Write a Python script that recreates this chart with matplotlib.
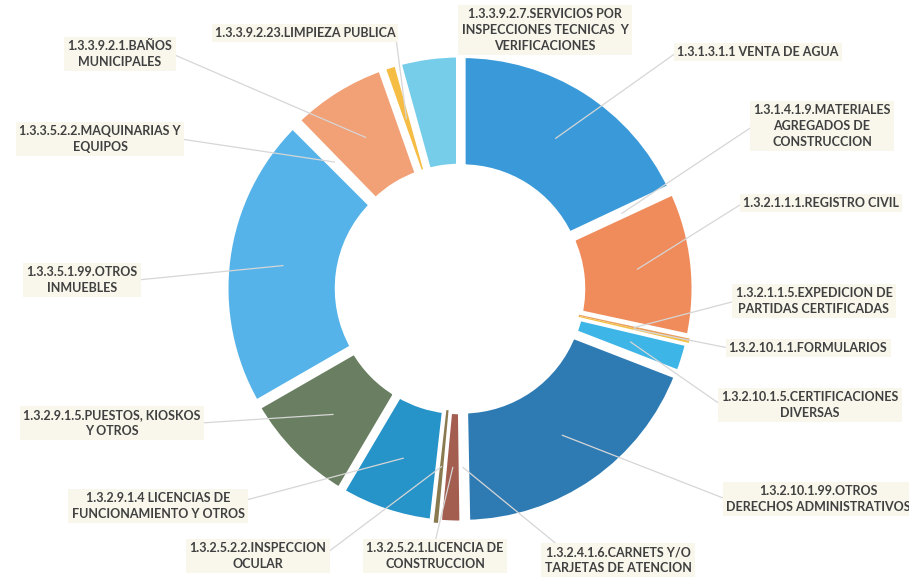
import matplotlib
matplotlib.use("Agg")
import matplotlib.pyplot as plt
import numpy as np

# Slices in clockwise order starting at 12 o'clock (approx. % of total)
labels = [
    "1.3.1.3.1.1 VENTA DE AGUA",
    "1.3.1.4.1.9.MATERIALES\nAGREGADOS DE\nCONSTRUCCION",
    "1.3.2.1.1.1.REGISTRO CIVIL",
    "1.3.2.1.1.5.EXPEDICION DE\nPARTIDAS CERTIFICADAS",
    "1.3.2.10.1.1.FORMULARIOS",
    "1.3.2.10.1.5.CERTIFICACIONES\nDIVERSAS",
    "1.3.2.10.1.99.OTROS\nDERECHOS ADMINISTRATIVOS",
    "1.3.2.4.1.6.CARNETS Y/O\nTARJETAS DE ATENCION",
    "1.3.2.5.2.1.LICENCIA DE\nCONSTRUCCION",
    "1.3.2.5.2.2.INSPECCION\nOCULAR",
    "1.3.2.9.1.4 LICENCIAS DE\nFUNCIONAMIENTO Y OTROS",
    "1.3.2.9.1.5.PUESTOS, KIOSKOS\nY OTROS",
    "1.3.3.5.1.99.OTROS\nINMUEBLES",
    "1.3.3.5.2.2.MAQUINARIAS Y\nEQUIPOS",
    "1.3.3.9.2.1.BAÑOS\nMUNICIPALES",
    "1.3.3.9.2.23.LIMPIEZA PUBLICA",
    "1.3.3.9.2.7.SERVICIOS POR\nINSPECCIONES TECNICAS  Y\nVERIFICACIONES",
]
values = [18.0, 0.08, 10.3, 0.15, 0.15, 2.2, 18.8, 0.1, 1.7, 0.3,
          6.7, 8.2, 20.8, 0.2, 6.9, 1.1, 4.3]
colors = ["#3A9AD9", "#2E7BB4", "#F08B5B", "#E9A060", "#F3C044", "#3DB5E6",
          "#2E7BB4", "#7A5040", "#A35E50", "#8A7A50", "#2693C9", "#6A7F62",
          "#55B3E9", "#3A9AD9", "#F2A075", "#F6BD45", "#75CDEA"]

# layout (pixels, origin top-left)
W, H = 909, 577
cx, cy, R = 460, 289, 231
thin_visible = {3, 4, 9}   # hair-line slices that show inside the gaps
label_pos = [
    (758, 52), (822, 126), (821, 203), (814, 301), (808, 348), (810, 405),
    (818, 499), (618, 560), (435, 556), (258, 556), (158, 506), (112, 423),
    (82, 280), (100, 139), (120, 54), (305, 33), (545, 30),
]
label_rel = [
    (0, 0.5), (0, 0.5), (0, 0.5), (0, 0.5), (0, 0.5), (0, 0.5),
    (0, 0.5), (0.1, 1), (0.5, 1), (1, 0.6), (1, 0.7), (1, 0.5),
    (1, 0.5), (1, 0.5), (1, 0.5), (1, 0.5), None,
]

fig = plt.figure(figsize=(W / 100, H / 100), dpi=100)
ax = fig.add_axes([0, 0, 1, 1])

wedges, _ = ax.pie(
    values, colors=colors, startangle=90, counterclock=False,
    radius=R, center=(cx, H - cy), explode=[4] * len(values),
    wedgeprops=dict(width=0.49 * R, edgecolor="white", linewidth=5),
)
for i, w in enumerate(wedges):
    if i in thin_visible:
        w.set_linewidth(0)
        w.set_zorder(2)

ax.set_xlim(0, W)
ax.set_ylim(0, H)
ax.set_aspect("equal")
ax.axis("off")

r_mid = R * (1 - 0.49 / 2)
for w, lab, (lx, ly), rel in zip(wedges, labels, label_pos, label_rel):
    t = np.deg2rad((w.theta1 + w.theta2) / 2)
    ox, oy = w.center
    anchor = (ox + r_mid * np.cos(t), oy + r_mid * np.sin(t))
    arrow = None
    if rel is not None:
        arrow = dict(arrowstyle="-", color="#D6D6D6", lw=0.9,
                     shrinkA=0, shrinkB=0, relpos=rel)
    ax.annotate(lab, xy=anchor, xytext=(lx, H - ly), textcoords="data",
                ha="center", va="center", fontsize=9, family="Lato",
                weight="bold", color="#404040", linespacing=1.35,
                bbox=dict(boxstyle="square,pad=0.25", fc="#F9F7EC", ec="none"),
                arrowprops=arrow, zorder=4)

fig.savefig("out.png", dpi=100)
